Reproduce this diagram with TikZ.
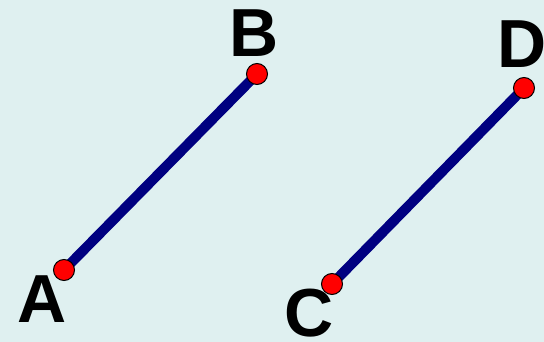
\documentclass[tikz,border=0pt]{standalone}
\usepackage{fontspec}
\setmainfont{Liberation Sans}
\usetikzlibrary{backgrounds}
\definecolor{paleBg}{RGB}{223,240,240}
\definecolor{segNavy}{RGB}{0,0,128}

\begin{document}
\begin{tikzpicture}[
    x=1pt, y=-1pt,
    seg/.style={draw=segNavy, line width=10pt},
    endpt/.style={circle, draw=black, fill=red, line width=1pt, inner sep=0pt, minimum size=21pt},
    lbl/.style={font=\fontsize{68}{68}\selectfont\bfseries, inner sep=0pt}
]
    \useasboundingbox (0,0) rectangle (544,342);

    \node[endpt] (A) at (64,270) {};
    \node[endpt] (B) at (257,74) {};
    \node[endpt] (C) at (332,284) {};
    \node[endpt] (D) at (524,88) {};

    \node[lbl] (lblA) at (42,299) {A};
    \node[lbl] (lblB) at (254,33) {B};
    \node[lbl] (lblC) at (309,313) {C};
    \node[lbl] (lblD) at (522,44) {D};

    \begin{scope}[on background layer]
        \fill[paleBg] (0,0) rectangle (544,342);
        \draw[seg] (A.center) -- (B.center);
        \draw[seg] (C.center) -- (D.center);
    \end{scope}
\end{tikzpicture}
\end{document}
